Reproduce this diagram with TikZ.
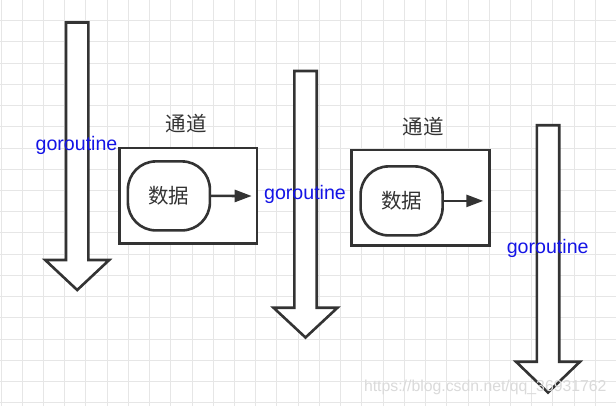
\documentclass[tikz,border=0pt]{standalone}
\usepackage{fontspec}
\setmainfont{Liberation Sans}
\newfontfamily\cjk{Noto Sans CJK SC}
\usetikzlibrary{arrows.meta}
\definecolor{ink}{HTML}{333333}
\definecolor{gridc}{HTML}{E6E6E6}
\definecolor{gblue}{HTML}{1414E6}
\definecolor{wmc}{HTML}{DADADA}
\newcommand\blockarrow[4]{% center x, top, head base, tip
  \draw[blockarr] ({#1-11.2},#2) -- ({#1+11.2},#2) -- ({#1+11.2},#3) -- ({#1+32},#3)
    -- (#1,#4) -- ({#1-32},#3) -- ({#1-11.2},#3) -- cycle;}
\begin{document}
\begin{tikzpicture}[x=1pt,y=-1pt,
  blockarr/.style={draw=ink, line width=2.6pt, fill=white, line join=miter},
  chanbox/.style={draw=ink, line width=2.6pt, fill=white, inner sep=0pt},
  databox/.style={draw=ink, line width=2.6pt, fill=white, rounded corners=28pt, inner sep=0pt,
    font=\cjk\fontsize{20.5}{24}\selectfont, text=ink},
  dataarrow/.style={draw=ink, line width=2.6pt, -{Triangle[length=17pt,width=12pt]}},
  chanlabel/.style={font=\cjk\fontsize{20.5}{24}\selectfont, text=ink, inner sep=0pt},
  glabel/.style={font=\fontsize{19.6}{23}\selectfont, text=gblue, inner sep=0pt, anchor=base},
  wmark/.style={font=\fontsize{15.8}{18}\selectfont, text=wmc, inner sep=0pt}]
\useasboundingbox (0,0) rectangle (616,406);
\fill[white] (0,0) rectangle (616,406);
\foreach \i in {0,...,29} \draw[gridc, line width=1pt] ({1+\i*21.23},0) -- ({1+\i*21.23},406);
\foreach \j in {0,...,18} \draw[gridc, line width=1pt] (0,{20.7+\j*21.23}) -- (616,{20.7+\j*21.23});
% goroutine arrows
\blockarrow{77.2}{22.5}{260}{290}
\blockarrow{305.5}{71}{307.7}{337.5}
\blockarrow{548}{125.3}{361.7}{392.5}
% channel 1
\node[chanlabel] (c1) at (186,123.3) {通道};
\node[chanbox, minimum width=137.5pt, minimum height=95.5pt] (ch1) at (188.3,195.7) {};
\node[databox, minimum width=82pt, minimum height=69pt] (d1) at (168.9,195.9) {数据};
\coordinate (e1) at (251.7,196);
\draw[dataarrow] (d1.east) -- (e1);
% channel 2
\node[chanlabel] (c2) at (423.3,126.7) {通道};
\node[chanbox, minimum width=137.5pt, minimum height=95.5pt] (ch2) at (420.5,197.7) {};
\node[databox, minimum width=82pt, minimum height=69pt] (d2) at (401.6,200.9) {数据};
\coordinate (e2) at (483.3,200.9);
\draw[dataarrow] (d2.east) -- (e2);
% labels
\node[glabel] (g1) at (76.5,150.7) {goroutine};
\node[glabel] (g2) at (305,199.8) {goroutine};
\node[glabel] (g3) at (547.7,253.2) {goroutine};
\node[wmark] (wm) at (485.3,387.7) {https://blog.csdn.net/qq\_36931762};
\end{tikzpicture}
\end{document}
